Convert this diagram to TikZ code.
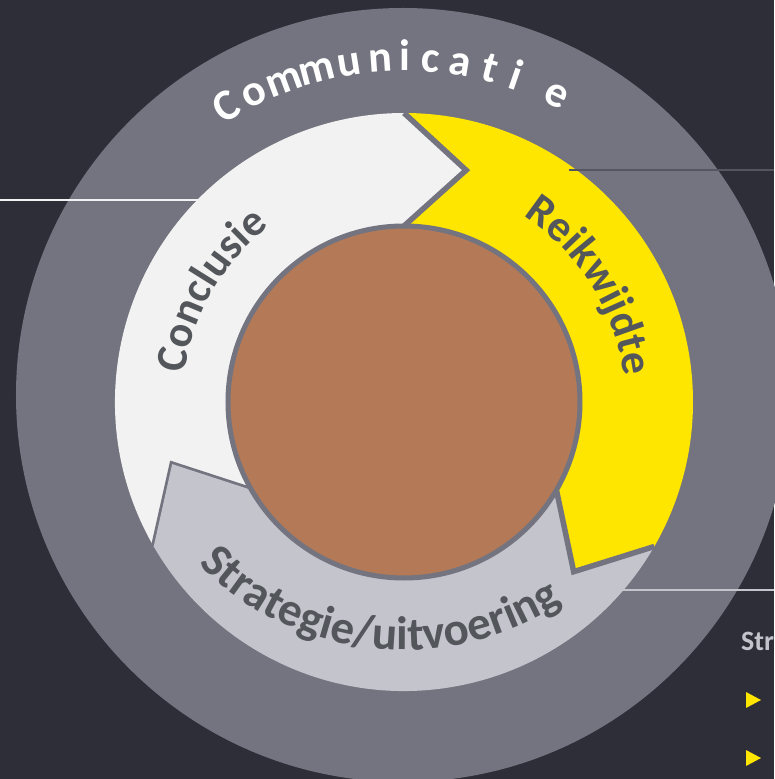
\documentclass[tikz,border=0pt]{standalone}
\usepackage{fontspec}
\setmainfont{Carlito}
\usetikzlibrary{decorations.text}

\definecolor{eybg}{HTML}{2E2E38}
\definecolor{ringgray}{HTML}{747480}
\definecolor{conclfill}{HTML}{F2F2F2}
\definecolor{reikfill}{HTML}{FFE600}
\definecolor{stratfill}{HTML}{C4C4CD}
\definecolor{corefill}{HTML}{B47A57}
\definecolor{labelgray}{HTML}{53565A}
\definecolor{leadgray}{HTML}{55555F}

\tikzstyle{sepline}=[ringgray, line width=5.5, line join=miter]
\tikzstyle{commletter}=[anchor=base, inner sep=0, text=white, font=\fontsize{44}{44}\selectfont\bfseries]
\tikzstyle{leader}=[line width=2]
\tikzstyle{ringlabel}=[decorate, decoration={text along path, text align=center, text color=labelgray}]
\newcommand{\labelfont}{\fontsize{44}{44}\selectfont\bfseries}
\newcommand{\ringout}{289pt}
\newcommand{\ringmid}{240pt}
\newcommand{\ringin}{176pt}
% arrow segment, clockwise from #1 over 120 degrees
\newcommand{\drawsegment}[2]{
  \fill[#2] (#1:\ringout) arc[start angle=#1, end angle=#1-120, radius=\ringout]
    -- (#1-135:\ringmid) -- (#1-120:\ringin)
    arc[start angle=#1-120, end angle=#1, radius=\ringin]
    -- (#1-15:\ringmid) -- cycle;
  \draw[sepline] (#1:\ringout) -- (#1-15:\ringmid) -- (#1:\ringin);
}

\begin{document}
\begin{tikzpicture}[x=1pt, y=1pt]
  \useasboundingbox (-404,-377) rectangle (370,402);
  \fill[eybg] (-404,-377) rectangle (370,402);
  \node[circle, fill=ringgray, inner sep=0, minimum size=774pt] (commRing) at (-1,7) {};

  \drawsegment{210}{conclfill}
  \drawsegment{90}{reikfill}
  \drawsegment{-30}{stratfill}

  \node[circle, draw=ringgray, line width=5, fill=corefill, inner sep=0, minimum size=352pt] (core) at (0,0) {};

  % labels on the ring
  \path[ringlabel, decoration={text={|\labelfont|Conclusie}}] (195:221pt) arc[start angle=195, end angle=105, radius=221pt];
  \path[ringlabel, decoration={text={|\labelfont|Reikwijdte}}] (77:221pt) arc[start angle=77, end angle=-13, radius=221pt];
  \path[ringlabel, shift={(0,42)}, decoration={text={|\fontsize{47}{47}\selectfont\bfseries|Strategie/uitvoering}}] (208:290pt) arc[start angle=208, end angle=320, radius=290pt];

  \foreach \ang/\ch [count=\i] in {121.0/C,116.0/o,110.4/m,104.7/m,99.2/u,94.0/n,89.9/i,85.6/c,80.5/a,75.5/t,71.1/i,63.6/e}
    \node[commletter, rotate=\ang-90] (comm\i) at (\ang:331pt) {\ch};

  % leader lines
  \coordinate (leftEdge) at (-404,202);
  \coordinate (conclEnd) at (-191,202);
  \coordinate (reikEnd) at (165,232);
  \coordinate (topRight) at (370,232);
  \coordinate (stratEnd) at (218,-188);
  \coordinate (lowRight) at (370,-188);
  \draw[leader, conclfill] (leftEdge) -- (conclEnd);
  \draw[leader, leadgray] (reikEnd) -- (topRight);
  \draw[leader, stratfill] (stratEnd) -- (lowRight);

  \node[anchor=base west, inner sep=0, text=stratfill, font=\fontsize{28}{28}\selectfont\bfseries] (sideHead) at (337,-248) {Str};
  \foreach \y in {-298,-356}
    \fill[reikfill] (342,\y+8) -- (357,\y) -- (342,\y-8) -- cycle;
\end{tikzpicture}
\end{document}
